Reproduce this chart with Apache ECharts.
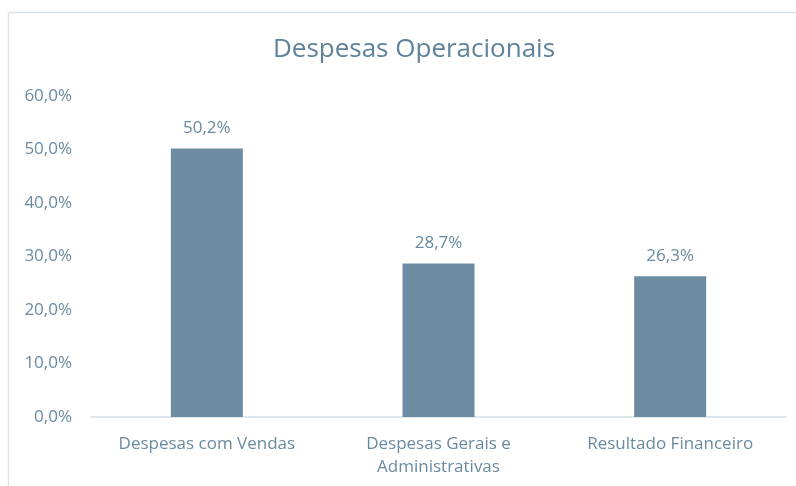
<!DOCTYPE html>
<html>
<head>
<meta charset="utf-8">
<script src="https://cdn.jsdelivr.net/npm/echarts@6/dist/echarts.min.js"></script>
<style>html,body{margin:0;padding:0;background:#fff;}#c{width:796px;height:486px;}</style>
</head>
<body>
<div id="c"></div>
<script>
const categories = ['Despesas com Vendas', 'Despesas Gerais e\nAdministrativas', 'Resultado Financeiro'];
const values = [50.2, 28.7, 26.3];
const yTicks = [0, 10, 20, 30, 40, 50, 60];

const fmt = v => v.toFixed(1).replace('.', ',') + '%';
const font = '"Open Sans", "Noto Sans", sans-serif';
const txt = '#6A8AA0';

const chart = echarts.init(document.getElementById('c'), null, {renderer: 'canvas'});
chart.setOption({
  animation: false,
  backgroundColor: '#fff',
  title: {
    text: 'Despesas Operacionais',
    left: 409, top: 32, textAlign: 'center',
    textStyle: {fontFamily: font, fontSize: 26, fontWeight: 'normal', color: '#5E829A'}
  },
  graphic: [
    {type: 'line', shape: {x1: 8.5, y1: 12.5, x2: 796, y2: 12.5}, style: {stroke: '#D9E2E8', lineWidth: 1.5}},
    {type: 'line', shape: {x1: 8.5, y1: 12.5, x2: 8.5, y2: 486}, style: {stroke: '#D9E2E8', lineWidth: 1.5}}
  ],
  grid: {left: 91, right: 10, top: 96, bottom: 69},
  xAxis: {
    type: 'category',
    data: categories,
    axisLine: {lineStyle: {color: '#D6DFE6', width: 1.5}},
    axisTick: {show: false},
    axisLabel: {fontFamily: font, fontSize: 17, color: txt, margin: 16, lineHeight: 23, interval: 0}
  },
  yAxis: {
    type: 'value',
    min: yTicks[0], max: yTicks[yTicks.length - 1], interval: 10,
    splitLine: {show: false},
    axisLine: {show: false},
    axisTick: {show: false},
    axisLabel: {fontFamily: font, fontSize: 17, color: txt, margin: 19, formatter: v => fmt(v)}
  },
  series: [{
    type: 'bar',
    data: values,
    barWidth: 72,
    itemStyle: {color: '#6E8CA1'},
    label: {
      show: true, position: 'top', distance: 12,
      fontFamily: font, fontSize: 17, color: txt,
      formatter: p => fmt(p.value)
    }
  }]
});
</script>
</body>
</html>
